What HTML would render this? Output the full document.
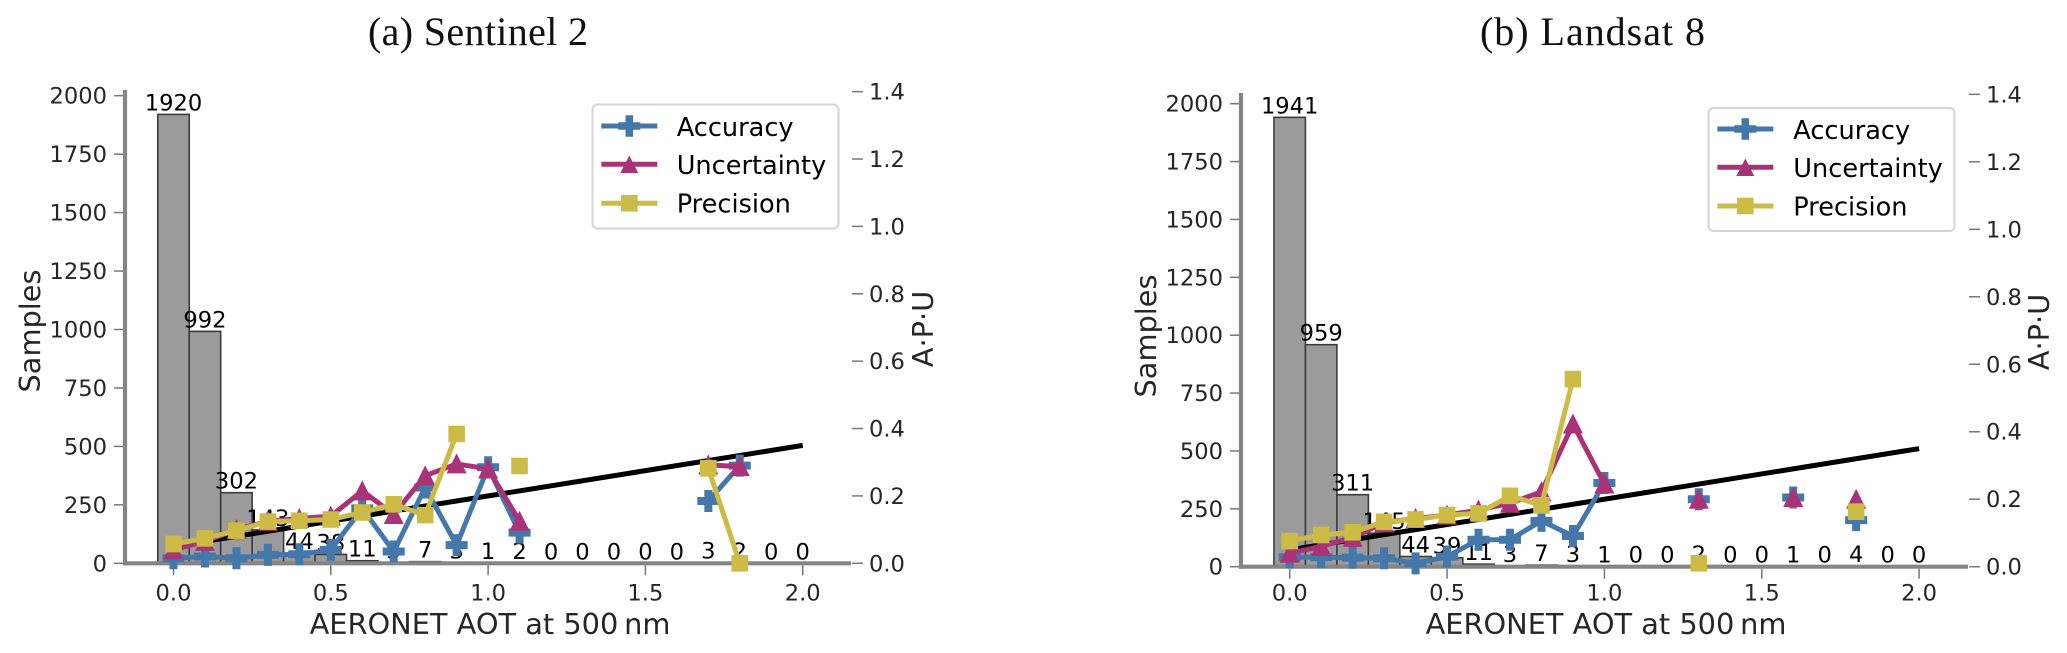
<!DOCTYPE html>
<html lang="en">
<head>
<meta charset="utf-8">
<title>AERONET AOT validation: Sentinel 2 and Landsat 8</title>
<style>
  html, body { margin: 0; padding: 0; background: #fff; width: 2067px; height: 653px; overflow: hidden; }
  svg { display: block; }
  text { font-family: "DejaVu Sans", "Liberation Sans", sans-serif; fill: #262626; }
  .title { font-family: "Liberation Serif", serif; font-size: 40px; fill: #111; }
  .axis-title { font-size: 28.8px; }
  .tick-label { font-size: 22.6px; }
  .bar-label { font-size: 22.6px; fill: #000; text-anchor: middle; }
  .legend-text { font-size: 25.6px; fill: #000; }
</style>
</head>
<body>
<svg id="chart" xmlns="http://www.w3.org/2000/svg" width="2067" height="653" viewBox="0 0 2067 653">
  <rect x="0" y="0" width="2067" height="653" fill="#fff"/>

  <g id="panel-a">
    <text class="title" x="368" y="45" textLength="220" lengthAdjust="spacing">(a) Sentinel 2</text>
    <g id="plot-a"></g>
    <text class="axis-title" x="490" y="634" text-anchor="middle">AERONET AOT at 500&#8201;nm</text>
    <text class="axis-title" transform="translate(40,331) rotate(-90)" text-anchor="middle">Samples</text>
    <text class="axis-title" transform="translate(933,329) rotate(-90)" text-anchor="middle">A·P·U</text>
    <g>
      <rect x="592.5" y="104.5" width="246" height="124" rx="5" fill="#fff" fill-opacity="0.85" stroke="#d5d5d5" stroke-width="2"/>
      <g>
        <line x1="601.3" y1="126" x2="657.3" y2="126" stroke="#4477AA" stroke-width="5"/>
        <path d="M625.5 115.2h7.6v7h7.2v7.6h-7.2v7h-7.6v-7h-7.2v-7.6h7.2z" fill="#4477AA"/>
        <text class="legend-text" x="676.7" y="136">Accuracy</text>
      </g>
      <g>
        <line x1="601.3" y1="164.3" x2="657.3" y2="164.3" stroke="#AA3377" stroke-width="5"/>
        <path d="M629.3 155.5l9 17.5h-18z" fill="#AA3377"/>
        <text class="legend-text" x="676.7" y="174">Uncertainty</text>
      </g>
      <g>
        <line x1="601.3" y1="203.3" x2="657.3" y2="203.3" stroke="#CCBB44" stroke-width="5"/>
        <rect x="621" y="195" width="16.6" height="16.6" fill="#CCBB44"/>
        <text class="legend-text" x="676.7" y="212.3">Precision</text>
      </g>
    </g>
  </g>

  <g id="panel-b">
    <text class="title" x="1480" y="45" textLength="225" lengthAdjust="spacing">(b) Landsat 8</text>
    <g id="plot-b"></g>
    <text class="axis-title" x="1606" y="634" text-anchor="middle">AERONET AOT at 500&#8201;nm</text>
    <text class="axis-title" transform="translate(1156,336) rotate(-90)" text-anchor="middle">Samples</text>
    <text class="axis-title" transform="translate(2049,332) rotate(-90)" text-anchor="middle">A·P·U</text>
    <g>
      <rect x="1708.5" y="108" width="246" height="123" rx="5" fill="#fff" fill-opacity="0.85" stroke="#d5d5d5" stroke-width="2"/>
      <g>
        <line x1="1717.3" y1="129" x2="1773.3" y2="129" stroke="#4477AA" stroke-width="5"/>
        <path d="M1741.5 118.2h7.6v7h7.2v7.6h-7.2v7h-7.6v-7h-7.2v-7.6h7.2z" fill="#4477AA"/>
        <text class="legend-text" x="1793.3" y="139">Accuracy</text>
      </g>
      <g>
        <line x1="1717.3" y1="167.3" x2="1773.3" y2="167.3" stroke="#AA3377" stroke-width="5"/>
        <path d="M1745.3 158.5l9 17.5h-18z" fill="#AA3377"/>
        <text class="legend-text" x="1793.3" y="177">Uncertainty</text>
      </g>
      <g>
        <line x1="1717.3" y1="206" x2="1773.3" y2="206" stroke="#CCBB44" stroke-width="5"/>
        <rect x="1737" y="197.7" width="16.6" height="16.6" fill="#CCBB44"/>
        <text class="legend-text" x="1793.3" y="215.5">Precision</text>
      </g>
    </g>
  </g>
</svg>

<script>
// ---- Data ----
const aotBins = [0, 0.1, 0.2, 0.3, 0.4, 0.5, 0.6, 0.7, 0.8, 0.9, 1.0, 1.1, 1.2, 1.3, 1.4, 1.5, 1.6, 1.7, 1.8, 1.9, 2.0];

const sentinelSamples = [1920, 992, 302, 143, 44, 38, 11, 3, 7, 3, 1, 2, 0, 0, 0, 0, 0, 3, 2, 0, 0];
const sentinelAccuracy = [0.015, 0.02, 0.015, 0.025, 0.027, 0.04, 0.163, 0.035, 0.225, 0.054, 0.285, 0.091, null, null, null, null, null, 0.185, 0.29, null, null];
const sentinelUncertainty = [0.04, 0.065, 0.10, 0.125, 0.133, 0.14, 0.215, 0.145, 0.26, 0.295, 0.28, 0.125, null, null, null, null, null, 0.292, 0.287, null, null];
const sentinelPrecision = [0.057, 0.074, 0.097, 0.124, 0.126, 0.13, 0.151, 0.175, 0.143, 0.384, null, 0.289, null, null, null, null, null, 0.282, 0, null, null];

const landsatSamples = [1941, 959, 311, 145, 44, 39, 11, 3, 7, 3, 1, 0, 0, 2, 0, 0, 1, 0, 4, 0, 0];
const landsatAccuracy = [0.028, 0.028, 0.027, 0.025, 0.01, 0.03, 0.08, 0.08, 0.136, 0.091, 0.248, null, null, 0.2, null, null, 0.205, null, 0.138, null, null];
const landsatUncertainty = [0.04, 0.06, 0.087, 0.13, 0.143, 0.153, 0.168, 0.188, 0.222, 0.423, 0.245, null, null, 0.2, null, null, 0.205, null, 0.2, null, null];
const landsatPrecision = [0.076, 0.094, 0.102, 0.133, 0.14, 0.153, 0.158, 0.21, 0.182, 0.556, null, null, null, 0.01, null, null, null, null, 0.163, null, null];

const referenceX = [0, 2];
const referenceY = [0.05, 0.35];

const xTicks = ['0.0', '0.5', '1.0', '1.5', '2.0'];
const sampleTicks = ['0', '250', '500', '750', '1000', '1250', '1500', '1750', '2000'];
const apuTicks = ['0.0', '0.2', '0.4', '0.6', '0.8', '1.0', '1.2', '1.4'];

// ---- Drawing ----
const SVG_NS = 'http://www.w3.org/2000/svg';
const BLUE = '#4477AA';
const MAGENTA = '#AA3377';
const YELLOW = '#CCBB44';
const SPINE = '#858585';

function svgEl(tag, parent) {
  const el = document.createElementNS(SVG_NS, tag);
  parent.appendChild(el);
  return el;
}

function markerPath(kind, cx, cy) {
  if (kind === 'plus') {
    const a = 4, b = 11;
    return 'M' + (cx - a) + ' ' + (cy - b) + 'h' + (2 * a) + 'v' + (b - a) + 'h' + (b - a) + 'v' + (2 * a) + 'h' + (a - b) +
           'v' + (b - a) + 'h' + (-2 * a) + 'v' + (a - b) + 'h' + (a - b) + 'v' + (-2 * a) + 'h' + (b - a) + 'z';
  }
  if (kind === 'triangle') {
    return 'M' + cx + ' ' + (cy - 10.5) + 'l10 20h-20z';
  }
  return 'M' + (cx - 8.3) + ' ' + (cy - 8.3) + 'h16.6v16.6h-16.6z';
}

function drawSeries(group, panel, values, color, kind, name) {
  const g = svgEl('g', group);
  
  
  let d = '';
  let penDown = false;
  aotBins.forEach(function (bin, i) {
    const v = values[i];
    if (v === null) { penDown = false; return; }
    d += (penDown ? 'L' : 'M') + panel.x(bin) + ' ' + panel.yApu(v);
    penDown = true;
  });
  const line = svgEl('path', g);
  
  
  line.setAttribute('d', d);
  line.setAttribute('fill', 'none');
  line.setAttribute('stroke', color);
  line.setAttribute('stroke-width', '5');
  line.setAttribute('stroke-linejoin', 'miter');
  aotBins.forEach(function (bin, i) {
    const v = values[i];
    if (v === null) { return; }
    const m = svgEl('path', g);
    
    
    m.setAttribute('d', markerPath(kind, panel.x(bin), panel.yApu(v)));
    m.setAttribute('fill', color);
  });
}

function drawPanel(panel) {
  const root = document.getElementById(panel.id);
  const barWidth = panel.x(0.1) - panel.x(0);

  // histogram bars
  const bars = svgEl('g', root);
  
  
  aotBins.forEach(function (bin, i) {
    const top = panel.ySamples(panel.samples[i]);
    const r = svgEl('rect', bars);
    
    
    r.setAttribute('x', panel.x(bin) - barWidth / 2);
    r.setAttribute('y', top);
    r.setAttribute('width', barWidth);
    r.setAttribute('height', panel.ySamples(0) - top);
    r.setAttribute('fill', '#9b9b9b');
    r.setAttribute('stroke', '#3c3c3c');
    r.setAttribute('stroke-width', '1.6');
  });

  // bar count labels
  aotBins.forEach(function (bin, i) {
    const t = svgEl('text', root);
    
    
    t.setAttribute('class', 'bar-label');
    t.setAttribute('x', panel.x(bin));
    t.setAttribute('y', panel.ySamples(panel.samples[i]) - 4);
    t.textContent = String(panel.samples[i]);
  });

  // spines
  const leftSpine = svgEl('line', root);
  
  
  leftSpine.setAttribute('x1', panel.spineX);
  leftSpine.setAttribute('x2', panel.spineX);
  leftSpine.setAttribute('y1', panel.spineTop);
  leftSpine.setAttribute('y2', panel.ySamples(0) + 2);
  leftSpine.setAttribute('stroke', SPINE);
  leftSpine.setAttribute('stroke-width', '4.2');

  const bottomSpine = svgEl('line', root);
  
  
  bottomSpine.setAttribute('x1', panel.spineX - 2);
  bottomSpine.setAttribute('x2', panel.spineEnd);
  bottomSpine.setAttribute('y1', panel.ySamples(0));
  bottomSpine.setAttribute('y2', panel.ySamples(0));
  bottomSpine.setAttribute('stroke', SPINE);
  bottomSpine.setAttribute('stroke-width', '4.2');

  // x ticks
  xTicks.forEach(function (label) {
    const px = panel.x(parseFloat(label));
    const tick = svgEl('line', root);
    
    
    tick.setAttribute('x1', px);
    tick.setAttribute('x2', px);
    tick.setAttribute('y1', panel.ySamples(0) + 2);
    tick.setAttribute('y2', panel.ySamples(0) + 12);
    tick.setAttribute('stroke', '#777');
    tick.setAttribute('stroke-width', '1.5');
    const t = svgEl('text', root);
    
    
    t.setAttribute('class', 'tick-label');
    t.setAttribute('x', px);
    t.setAttribute('y', 600.5);
    t.setAttribute('text-anchor', 'middle');
    t.textContent = label;
  });

  // left y ticks (samples)
  sampleTicks.forEach(function (label) {
    const py = panel.ySamples(parseFloat(label));
    const tick = svgEl('line', root);
    
    
    tick.setAttribute('x1', panel.spineX - 11);
    tick.setAttribute('x2', panel.spineX - 2);
    tick.setAttribute('y1', py);
    tick.setAttribute('y2', py);
    tick.setAttribute('stroke', '#777');
    tick.setAttribute('stroke-width', '1.5');
    const t = svgEl('text', root);
    
    
    t.setAttribute('class', 'tick-label');
    t.setAttribute('x', panel.spineX - 18);
    t.setAttribute('y', py + 8);
    t.setAttribute('text-anchor', 'end');
    t.textContent = label;
  });

  // right y ticks (A, P, U)
  apuTicks.forEach(function (label) {
    const py = panel.yApu(parseFloat(label));
    const tick = svgEl('line', root);
    
    
    tick.setAttribute('x1', panel.spineEnd + 1);
    tick.setAttribute('x2', panel.spineEnd + 12);
    tick.setAttribute('y1', py);
    tick.setAttribute('y2', py);
    tick.setAttribute('stroke', '#777');
    tick.setAttribute('stroke-width', '1.5');
    const t = svgEl('text', root);
    
    
    t.setAttribute('class', 'tick-label');
    t.setAttribute('x', panel.spineEnd + 18);
    t.setAttribute('y', py + 8);
    t.textContent = label;
  });

  // reference line
  const ref = svgEl('line', root);
  
  
  ref.setAttribute('x1', panel.x(referenceX[0]));
  ref.setAttribute('y1', panel.yApu(referenceY[0]));
  ref.setAttribute('x2', panel.x(referenceX[1]));
  ref.setAttribute('y2', panel.yApu(referenceY[1]));
  ref.setAttribute('stroke', '#000');
  ref.setAttribute('stroke-width', '5');

  drawSeries(root, panel, panel.accuracy, BLUE, 'plus', 'accuracy-series');
  drawSeries(root, panel, panel.uncertainty, MAGENTA, 'triangle', 'uncertainty-series');
  drawSeries(root, panel, panel.precision, YELLOW, 'square', 'precision-series');
}

drawPanel({
  id: 'plot-a',
  samples: sentinelSamples,
  accuracy: sentinelAccuracy,
  uncertainty: sentinelUncertainty,
  precision: sentinelPrecision,
  spineX: 125,
  spineTop: 90,
  spineEnd: 851,
  x: function (v) { return 173.5 + 314.6 * v; },
  ySamples: function (v) { return 563.3 - 0.2338 * v; },
  yApu: function (v) { return 563.3 - 336.9 * v; }
});

drawPanel({
  id: 'plot-b',
  samples: landsatSamples,
  accuracy: landsatAccuracy,
  uncertainty: landsatUncertainty,
  precision: landsatPrecision,
  spineX: 1241,
  spineTop: 93,
  spineEnd: 1968,
  x: function (v) { return 1289.7 + 314.7 * v; },
  ySamples: function (v) { return 566.7 - 0.2315 * v; },
  yApu: function (v) { return 566.7 - 337.4 * v; }
});
</script>
</body>
</html>
